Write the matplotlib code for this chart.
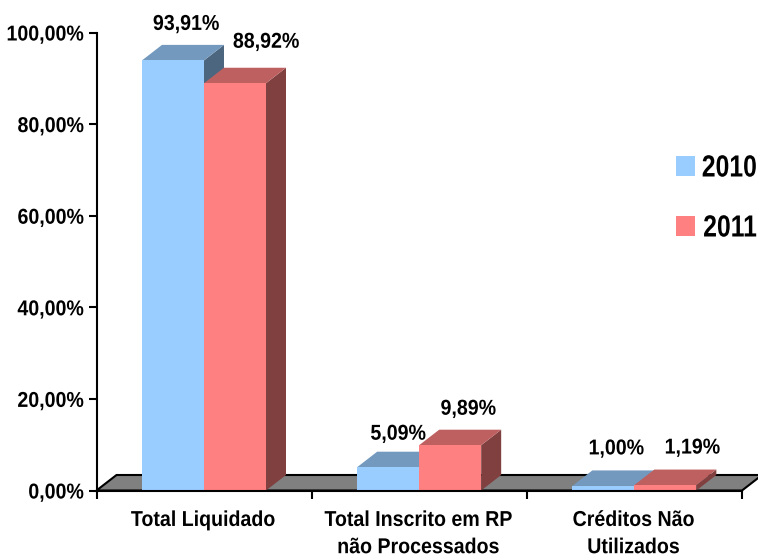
import matplotlib
matplotlib.use("Agg")
import matplotlib.pyplot as plt
from matplotlib.patches import Polygon, Rectangle
from matplotlib.patheffects import AbstractPathEffect
from matplotlib.transforms import Affine2D

categories = ["Total Liquidado", "Total Inscrito em RP\nnão Processados", "Créditos Não\nUtilizados"]
series_names = ["2010", "2011"]
values_2010 = [93.91, 5.09, 1.00]
values_2011 = [88.92, 9.89, 1.19]
y_ticks = [0, 20, 40, 60, 80, 100]

front = ["#99CCFF", "#FF8080"]
top = ["#7399BF", "#BF6060"]
side = ["#4D6680", "#804040"]


class Narrow(AbstractPathEffect):
    """Condense glyph outlines horizontally around a chosen anchor."""

    def __init__(self, sx, anchor="center"):
        super().__init__()
        self.sx = sx
        self.anchor = anchor

    def draw_path(self, renderer, gc, tpath, affine, rgbFace=None):
        box = tpath.get_extents(affine)
        ax_ = {"left": box.x0, "center": (box.x0 + box.x1) / 2, "right": box.x1}[self.anchor]
        squeeze = Affine2D().translate(-ax_, 0).scale(self.sx, 1).translate(ax_, 0)
        renderer.draw_path(gc, tpath, affine + squeeze, rgbFace)


plt.rcParams["font.family"] = ["Liberation Sans"]
plt.rcParams["font.weight"] = "bold"
LABEL_SIZE = 15.5
SX = 0.91

W, H = 758, 554
fig = plt.figure(figsize=(W / 100, H / 100), dpi=100)
ax = fig.add_axes([96.5 / W, (H - 490.5) / H, (742 - 96.5) / W, 458 / H])
ax.set_xlim(0, 3)
ax.set_ylim(0, 100)

# Depth of the pseudo-3D extrusion, expressed in data units
ppx = (742 - 96.5) / 3
ppy = 458 / 100
dx = 20 / ppx
dy = 15.5 / ppy
bar_w = 62 / ppx
gap = 45.5 / ppx

# Floor
ax.add_patch(Polygon([(0, 0), (dx, dy), (3 + dx, dy), (3, 0)], closed=True,
                     facecolor="#808080", edgecolor="black", lw=1.5,
                     clip_on=False, zorder=1))

# Bars drawn back to front inside each group
z = 2
for i in range(len(categories)):
    for j, vals in enumerate([values_2010, values_2011]):
        x0 = i + gap + j * bar_w
        x1 = x0 + bar_w
        v = vals[i]
        ax.add_patch(Polygon([(x1, 0), (x1 + dx, dy), (x1 + dx, v + dy), (x1, v)],
                             closed=True, facecolor=side[j], lw=0, clip_on=False, zorder=z))
        ax.add_patch(Polygon([(x0, v), (x0 + dx, v + dy), (x1 + dx, v + dy), (x1, v)],
                             closed=True, facecolor=top[j], lw=0, clip_on=False, zorder=z))
        ax.bar(x0, v, width=bar_w, align="edge", color=front[j], lw=0, zorder=z, clip_on=False)
        z += 1

# Value labels, offset in pixels from the bar's front-top centre
offsets_2010 = [(13, 36), (10, 33), (13, 37)]
offsets_2011 = [(31, 41), (18, 36), (27, 37)]
for j, (vals, offs) in enumerate([(values_2010, offsets_2010), (values_2011, offsets_2011)]):
    for i, v in enumerate(vals):
        xc = i + gap + (j + 0.5) * bar_w
        ax.annotate(f"{v:.2f}%".replace(".", ","), (xc, v),
                    xytext=(offs[i][0] * 0.72, offs[i][1] * 0.72), textcoords="offset points",
                    ha="center", va="center", fontsize=LABEL_SIZE, fontweight="bold",
                    color="black", zorder=50, annotation_clip=False,
                    path_effects=[Narrow(SX)])

# Axes
for s in ["top", "right"]:
    ax.spines[s].set_visible(False)
for s in ["left", "bottom"]:
    ax.spines[s].set_linewidth(1.5)
    ax.spines[s].set_zorder(40)
ax.set_yticks(y_ticks)
ax.set_yticklabels([f"{t:.2f}%".replace(".", ",") for t in y_ticks], fontsize=LABEL_SIZE, fontweight="bold")
for lab in ax.get_yticklabels():
    lab.set_path_effects([Narrow(SX, "right")])
ax.set_xticks([0, 1, 2, 3])
ax.set_xticklabels([])
ax.tick_params(axis="y", length=6, width=1.5, pad=3)
ax.tick_params(axis="x", length=6, width=1.5)

for i, c in enumerate(categories):
    ax.annotate(c, (i + 0.5, 0), xytext=(-0.7, -14), textcoords="offset points",
                ha="center", va="top", fontsize=LABEL_SIZE, fontweight="bold",
                linespacing=1.39, annotation_clip=False, path_effects=[Narrow(SX)])

# Legend
for name, color, yc in zip(series_names, front, [166, 226]):
    fig.add_artist(Rectangle((676 / W, (H - yc - 9.5) / H), 19 / W, 19 / H,
                             transform=fig.transFigure, facecolor=color, lw=0))
    fig.text(757 / W, (H - yc + 1) / H, name, ha="right", va="center_baseline",
             fontsize=22, fontweight="bold", path_effects=[Narrow(0.81, "right")])

fig.savefig("out.png", dpi=100)
